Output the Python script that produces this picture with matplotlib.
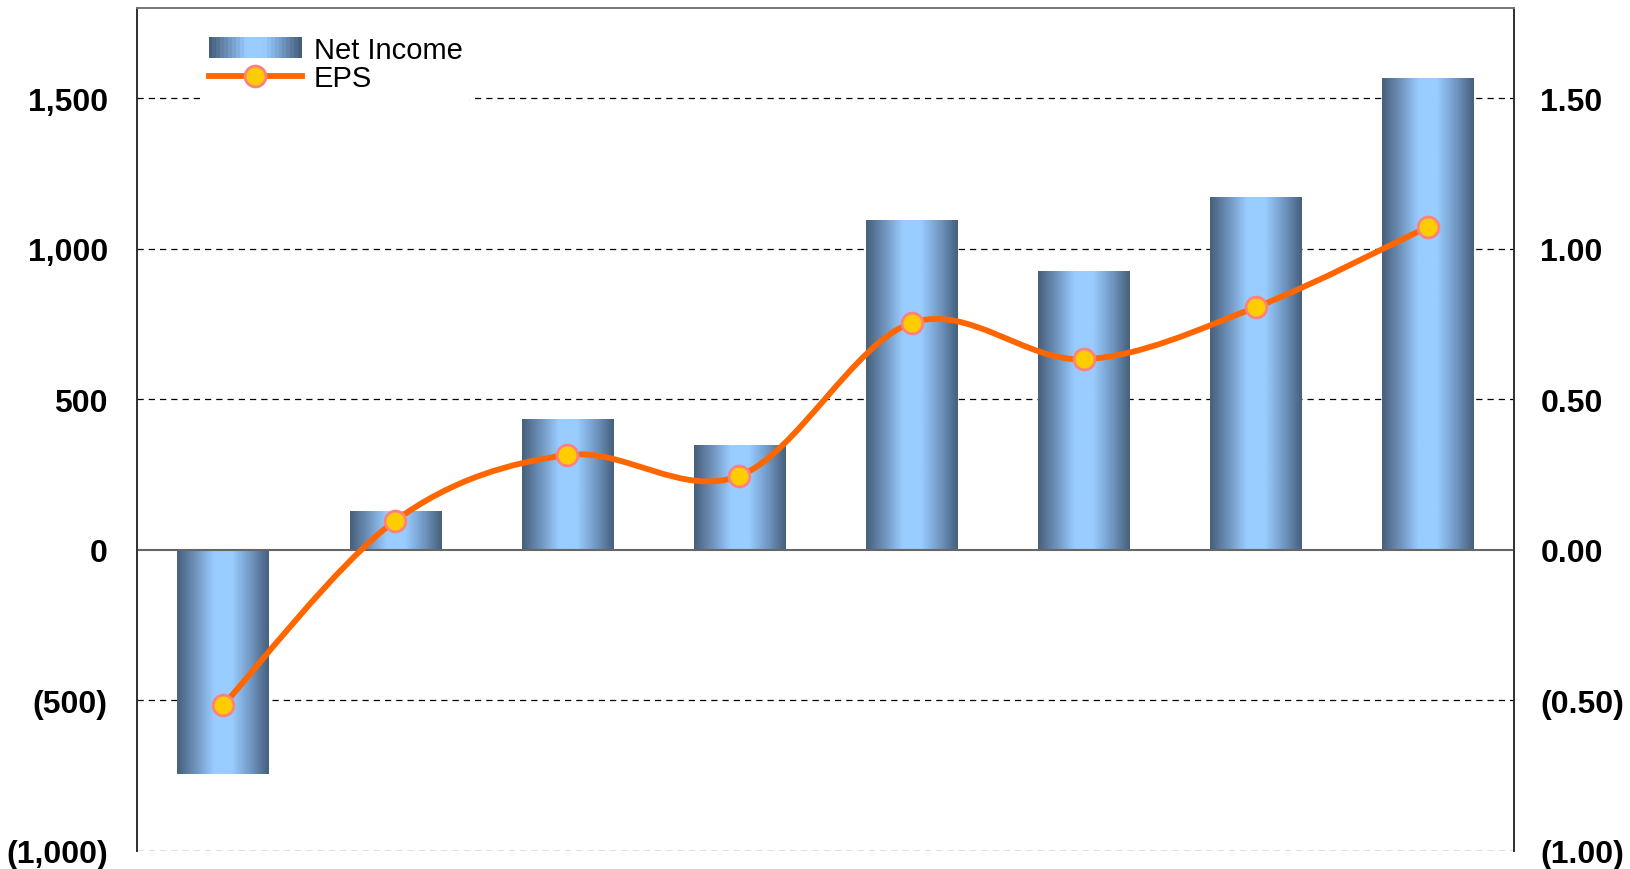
import numpy as np
import matplotlib.pyplot as plt
from matplotlib.path import Path
from matplotlib.patches import PathPatch, Patch, Rectangle
from matplotlib.colors import LinearSegmentedColormap
from matplotlib.lines import Line2D
from matplotlib.ticker import FuncFormatter
from matplotlib.legend_handler import HandlerBase

plt.rcParams['font.family'] = ['Liberation Sans', 'DejaVu Sans']

# data
periods = np.arange(8)
net_income = [-744, 128, 436, 349, 1097, 927, 1173, 1567]
eps = [-0.516, 0.097, 0.315, 0.246, 0.754, 0.633, 0.806, 1.073]

fig = plt.figure(figsize=(16.31, 8.70), dpi=100)
ax = fig.add_axes([137 / 1631, 18 / 870, 1377 / 1631, 843 / 870])
ax2 = ax.twinx()

# gradient bars
cmap = LinearSegmentedColormap.from_list(
    'bar', ['#465f7c', '#6f93bb', '#99ccff', '#99ccff', '#7299c4', '#465f7c'])
grad = np.linspace(0, 1, 256).reshape(1, -1)
bars = ax.bar(periods, net_income, width=0.53, color='none', zorder=2)
for b in bars:
    x0, y0 = b.get_x(), b.get_y()
    w, h = b.get_width(), b.get_height()
    im = ax.imshow(grad, cmap=cmap, aspect='auto', zorder=2,
                   extent=(x0, x0 + w, min(y0, y0 + h), max(y0, y0 + h)))
    im.set_clip_path(b)
ax.set_xlim(-0.5, 7.5)
ax.set_ylim(-1000, 1800)
ax2.set_ylim(-1.0, 1.8)

# grid
for v in [-1000, -500, 500, 1000, 1500]:
    ax.axhline(v, color='black', lw=0.9, ls=(0, (5, 4)), zorder=1)
ax.axhline(0, color='#666666', lw=1.5, zorder=3)

# smoothed EPS line (Catmull-Rom -> Bezier)
xs = np.array(periods, dtype=float)
ys = np.array(eps)
verts = [(xs[0], ys[0])]
codes = [Path.MOVETO]
n = len(xs)
for i in range(n - 1):
    p0 = (xs[max(i - 1, 0)], ys[max(i - 1, 0)])
    p1 = (xs[i], ys[i])
    p2 = (xs[i + 1], ys[i + 1])
    p3 = (xs[min(i + 2, n - 1)], ys[min(i + 2, n - 1)])
    t = 1 / 6
    c1 = (p1[0] + (p2[0] - p0[0]) * t, p1[1] + (p2[1] - p0[1]) * t)
    c2 = (p2[0] - (p3[0] - p1[0]) * t, p2[1] - (p3[1] - p1[1]) * t)
    verts += [c1, c2, p2]
    codes += [Path.CURVE4] * 3
ax2.add_patch(PathPatch(Path(verts, codes), fill=False, edgecolor='#ff6600',
                        lw=4.2, capstyle='round', joinstyle='round', zorder=4))
ax2.plot(periods, eps, ls='none', marker='o', ms=15, mfc='#ffcc00',
         mec='#ff8080', mew=2, zorder=5)

# axes styling
ax.set_xticks([])
ax.set_yticks([-1000, -500, 0, 500, 1000, 1500])
ax2.set_yticks([-1.0, -0.5, 0, 0.5, 1.0, 1.5])
ax.yaxis.set_major_formatter(FuncFormatter(
    lambda v, p: f'({abs(v):,.0f})' if v < 0 else f'{v:,.0f}'))
ax2.yaxis.set_major_formatter(FuncFormatter(
    lambda v, p: f'({abs(v):.2f})' if v < 0 else f'{v:.2f}'))
ax.tick_params(axis='y', length=0, pad=21, labelsize=23)
ax2.tick_params(axis='y', length=0, pad=19, labelsize=23)
for a in (ax, ax2):
    for lab in a.get_yticklabels():
        lab.set_fontweight('bold')
    a.spines['bottom'].set_visible(False)
    a.spines['left'].set_color('#333333')
    a.spines['right'].set_color('#333333')
    a.spines['top'].set_color('#777777')
    a.spines['left'].set_linewidth(1.3)
    a.spines['right'].set_linewidth(1.3)
    a.spines['top'].set_linewidth(1.3)
ax.set_zorder(ax2.get_zorder() - 1)
ax2.patch.set_visible(False)


# legend with gradient swatch
class GradHandler(HandlerBase):
    def create_artists(self, legend, orig, xd, yd, w, h, fs, trans):
        k = 24
        cols = cmap(np.linspace(0, 1, k))
        return [Rectangle((xd + w * j / k, yd), w / k + 0.3, h,
                          facecolor=cols[j], edgecolor='none', transform=trans)
                for j in range(k)]


h_bar = Patch(label='Net Income')
h_eps = Line2D([], [], color='#ff6600', lw=4.2, marker='o', ms=15,
               mfc='#ffcc00', mec='#ff8080', mew=2, label='EPS')
leg = ax2.legend([h_bar, h_eps], ['Net Income', 'EPS'],
                 handler_map={Patch: GradHandler()},
                 loc='upper left', bbox_to_anchor=(0.035, 0.995),
                 fontsize=21, frameon=True, facecolor='white', edgecolor='none',
                 framealpha=1, handlelength=3.2, handletextpad=0.4,
                 labelspacing=0.02, borderpad=0.3)
leg.set_zorder(10)

fig.savefig('out.png', dpi=100)
